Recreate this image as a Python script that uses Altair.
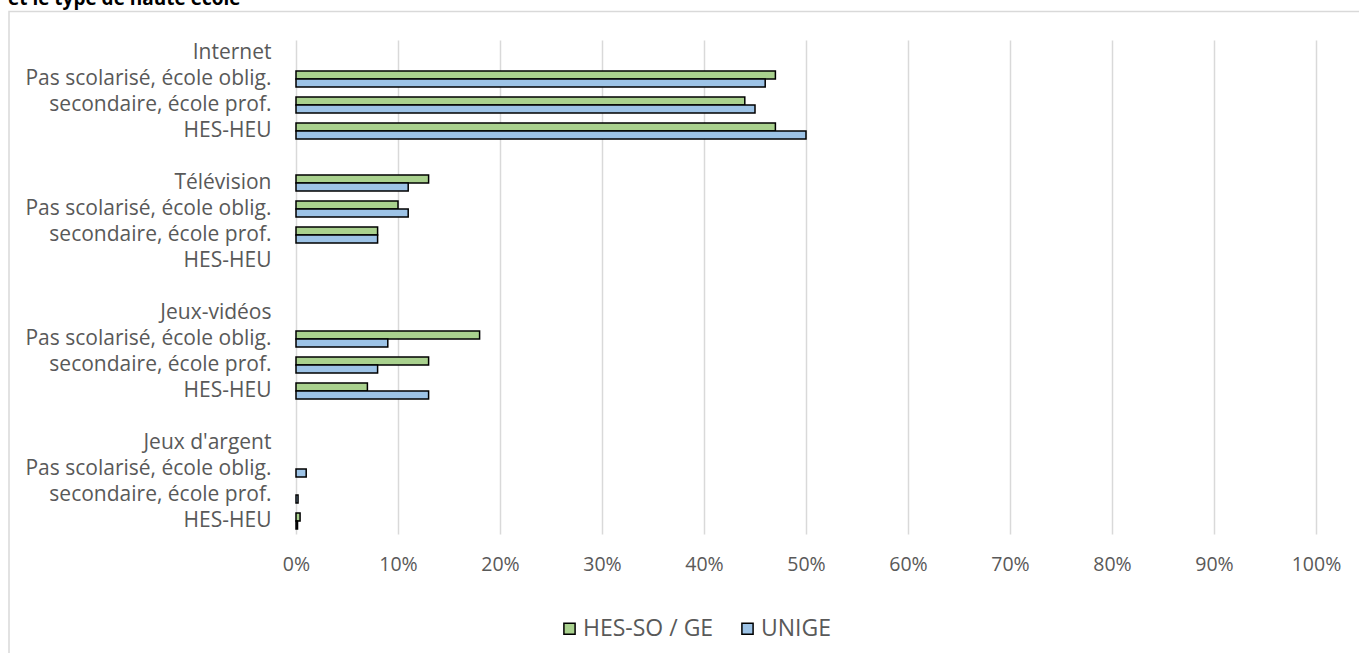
import altair as alt
import pandas as pd

# Row labels (top to bottom); empty strings are spacer rows between groups
rows = [
    "Internet", "Pas scolarisé, école oblig.", "secondaire, école prof.", "HES-HEU", "",
    "Télévision", "Pas scolarisé, école oblig.", "secondaire, école prof.", "HES-HEU", "",
    "Jeux-vidéos", "Pas scolarisé, école oblig.", "secondaire, école prof.", "HES-HEU", "",
    "Jeux d'argent", "Pas scolarisé, école oblig.", "secondaire, école prof.", "HES-HEU",
]

# Percentages per row (None = no bar)
hes_so_ge = [None, 47, 44, 47, None,
             13, 10, 8, None, None,
             None, 18, 13, 7, None,
             None, None, None, 0.4]
unige = [None, 46, 45, 50, None,
         11, 11, 8, None, None,
         None, 9, 8, 13, None,
         None, 1, 0.2, 0.15]

series = ["HES-SO / GE", "UNIGE"]
colors = ["#a9d18e", "#9dc3e6"]
x_ticks = list(range(0, 101, 10))

records = []
for i, (a, b) in enumerate(zip(hes_so_ge, unige)):
    for name, v in zip(series, (a, b)):
        if v is not None:
            records.append({"row": i, "serie": name, "value": v / 100})
df = pd.DataFrame(records)

labels_js = "[" + ",".join('"' + r + '"' for r in rows) + "]"

W, H = 1020, 494
FONT = "Open Sans"
GREY = "#595959"

bars = alt.Chart(df).mark_bar(stroke="black", strokeWidth=1.5).encode(
    x=alt.X(
        "value:Q",
        scale=alt.Scale(domain=[0, 1], nice=False),
        axis=alt.Axis(
            values=[t / 100 for t in x_ticks],
            format=".0%",
            grid=True,
            gridColor="#d9d9d9",
            gridWidth=1.5,
            domain=False,
            ticks=False,
            labelFlush=False,
            labelPadding=21,
            labelFontSize=19.5,
            labelColor=GREY,
            labelFont=FONT,
            title=None,
        ),
    ),
    y=alt.Y(
        "row:O",
        scale=alt.Scale(domain=list(range(len(rows))), paddingInner=0.385, paddingOuter=0.1925),
        axis=alt.Axis(
            labelExpr=labels_js + "[datum.value]",
            domain=False,
            ticks=False,
            grid=False,
            labelPadding=25,
            labelFontSize=21,
            labelLimit=0,
            labelColor=GREY,
            labelFont=FONT,
            title=None,
        ),
    ),
    yOffset=alt.YOffset("serie:N", scale=alt.Scale(domain=series, paddingInner=0, paddingOuter=0)),
    color=alt.Color(
        "serie:N",
        scale=alt.Scale(domain=series, range=colors),
        legend=alt.Legend(
            orient="none",
            legendX=262,
            legendY=577,
            direction="horizontal",
            title=None,
            symbolType="square",
            symbolSize=125,
            symbolStrokeColor="black",
            symbolStrokeWidth=1.5,
            labelFontSize=23,
            labelLimit=0,
            labelColor=GREY,
            labelFont=FONT,
            columnPadding=22,
            labelOffset=2,
        ),
    ),
)

# Outer chart frame
frame = alt.Chart(pd.DataFrame({"k": [0]})).mark_rect(
    fill=None, stroke="#d9d9d9", strokeWidth=1.5
).encode(
    x=alt.value(-287), x2=alt.value(1100), y=alt.value(-28.5), y2=alt.value(700)
)

# Title, partly above the page edge
title = alt.Chart(pd.DataFrame({"t": ["et le type de haute école"]})).mark_text(
    align="left", baseline="alphabetic", fontSize=19, fontWeight="bold",
    font=FONT, color="black"
).encode(text="t:N", x=alt.value(-288), y=alt.value(-35))

chart = alt.layer(frame, bars, title).properties(
    width=W,
    height=H,
    autosize=alt.AutoSizeParams(type="none"),
    padding={"left": 296, "top": 40, "right": 43, "bottom": 119},
).configure_view(stroke=None)

chart.save("out.html", embed_options={"renderer": "svg", "actions": False})
